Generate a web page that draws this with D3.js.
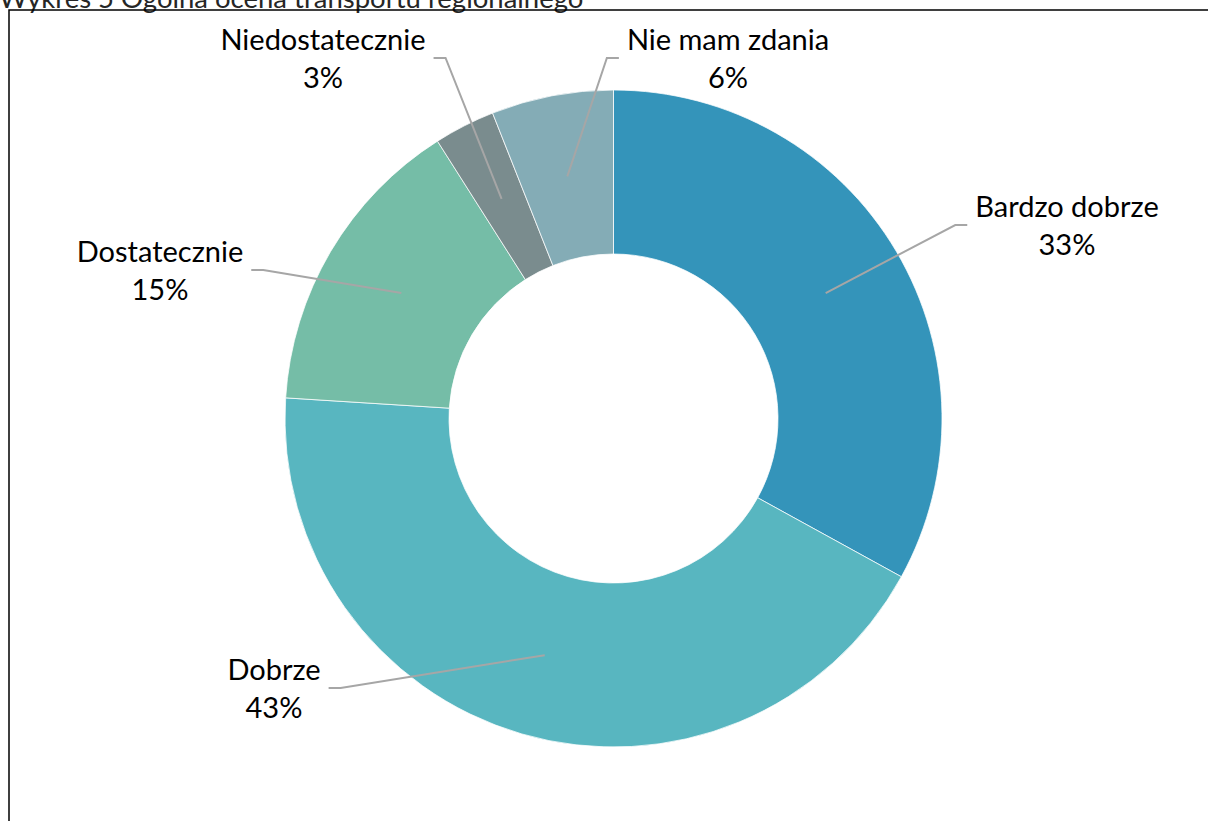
<!DOCTYPE html>
<html>
<head>
<meta charset="utf-8">
<script src="https://cdn.jsdelivr.net/npm/d3@7"></script>
<style>
  body { margin: 0; background: #fff; }
  svg { display: block; font-family: Lato, "Noto Sans", sans-serif; }
</style>
</head>
<body>
<svg id="chart" width="1208" height="821"></svg>
<script>
// Chart data
var categories = ["Bardzo dobrze", "Dobrze", "Dostatecznie", "Niedostatecznie", "Nie mam zdania"];
var values = [33, 43, 15, 3, 6];
var colors = ["#3494BA", "#58B6C0", "#75BDA7", "#7A8C8E", "#84ACB6"];
var title = "Wykres 5 Ogólna ocena transportu regionalnego";

// Label placement (text centre x, first baseline y), in page pixels
var labelLayout = [
    { x: 1067, y: 217 },
    { x: 274, y: 680 },
    { x: 160, y: 262 },
    { x: 323, y: 50 },
    { x: 728, y: 50 }
];

var svg = d3.select("#chart");
var cx = 613.5, cy = 418.5, outerR = 328.5, innerR = 164.5;

// Title, clipped at the top like the source
svg.append("text")
    .attr("x", -1)
    .attr("y", 8)
    .attr("font-size", 27.5)
    .attr("fill", "#262626")
    .text(title);

// Frame
svg.append("rect")
    .attr("x", 9)
    .attr("y", 10)
    .attr("width", 1220)
    .attr("height", 840)
    .attr("fill", "none")
    .attr("stroke", "#000")
    .attr("stroke-width", 1.5);

var pie = d3.pie().sort(null).value(d => d.value);
var arc = d3.arc().innerRadius(innerR).outerRadius(outerR);
var data = categories.map((c, i) => ({ name: c, value: values[i], color: colors[i], label: labelLayout[i] }));
var arcs = pie(data);

var g = svg.append("g").attr("transform", `translate(${cx},${cy})`);

g.selectAll("path")
    .data(arcs)
    .join("path")
    .attr("d", arc)
    .attr("fill", d => d.data.color)
    .attr("stroke", "#fff")
    .attr("stroke-width", 0.75);

// Labels
var labels = svg.append("g");
var lineH = 38;
arcs.forEach(function (d) {
    var lb = d.data.label;
    var t = labels.append("text")
        .attr("text-anchor", "middle")
        .attr("font-size", 29)
        .attr("fill", "#000");
    t.append("tspan").attr("x", lb.x).attr("y", lb.y).text(d.data.name);
    t.append("tspan").attr("x", lb.x).attr("y", lb.y + lineH).text(d.data.value + "%");
    d.textNode = t.node();
});

// Leader lines from the first label line to the slice centroid
arcs.forEach(function (d) {
    var c = arc.centroid(d);
    var px = cx + c[0], py = cy + c[1];
    var first = d.textNode.firstChild.getBBox();
    var ly = d.data.label.y + 8;
    var sx, bx;
    if (px > first.x + first.width) { sx = first.x + first.width + 8; bx = sx + 12; }
    else { sx = first.x - 8; bx = sx - 12; }
    labels.append("path")
        .attr("d", d3.line()([[sx, ly], [bx, ly], [px, py]]))
        .attr("fill", "none")
        .attr("stroke", "#A6A6A6")
        .attr("stroke-width", 2);
});
</script>
</body>
</html>
